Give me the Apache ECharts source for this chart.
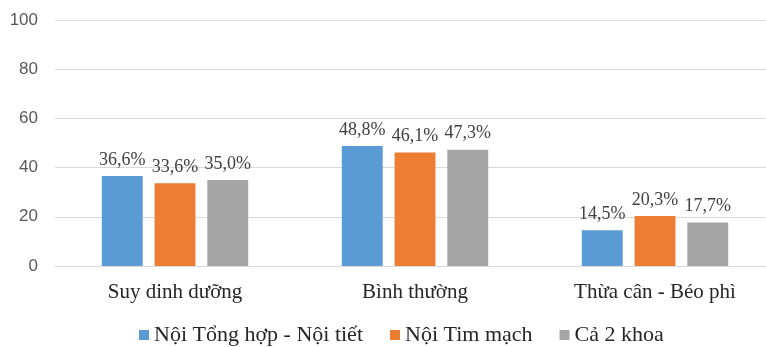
<!DOCTYPE html>
<html>
<head>
<meta charset="utf-8">
<script src="https://cdn.jsdelivr.net/npm/echarts@6/dist/echarts.min.js"></script>
<style>
  html, body { margin: 0; padding: 0; background: #fff; overflow: hidden; }
  #chart { width: 766px; height: 347px; }
</style>
</head>
<body>
<div id="chart"></div>
<script>
// Nutritional status by department (%)
const categories = ['Suy dinh dưỡng', 'Bình thường', 'Thừa cân - Béo phì'];
const seriesNames = ['Nội Tổng hợp - Nội tiết', 'Nội Tim mạch', 'Cả 2 khoa'];
const noiTongHop = [36.6, 48.8, 14.5];
const noiTimMach = [33.6, 46.1, 20.3];
const ca2Khoa = [35.0, 47.3, 17.7];
const yTicks = [0, 20, 40, 60, 80, 100];

const colors = ['#5b9bd5', '#ed7d31', '#a5a5a5'];
const serif = '"Liberation Serif", "DejaVu Serif", serif';
const sans = '"Liberation Sans", Arial, sans-serif';

function pct(p) {
  return p.value.toFixed(1).replace('.', ',') + '%';
}

const seriesData = [noiTongHop, noiTimMach, ca2Khoa];
const series = seriesData.map((vals, i) => ({
  name: seriesNames[i],
  type: 'bar',
  data: vals,
  barGap: '29%',
  barCategoryGap: '39%',
  itemStyle: { color: colors[i] },
  label: {
    show: true,
    position: 'top',
    distance: 7,
    formatter: pct,
    fontFamily: serif,
    fontSize: 18,
    color: '#404040'
  }
}));

const chart = echarts.init(document.getElementById('chart'), null, { renderer: 'canvas' });
chart.setOption({
  animation: false,
  backgroundColor: '#ffffff',
  textStyle: { fontFamily: serif },
  legend: {
    top: 319,
    left: 134,
    itemWidth: 10,
    itemHeight: 10,
    itemGap: 27,
    icon: 'rect',
    textStyle: { fontFamily: serif, fontSize: 22, color: '#262626' },
    data: seriesNames
  },
  // the plot runs slightly past the right edge of the canvas
  grid: {
    left: 55, width: 720, top: 20, bottom: 81,
    containLabel: false,
    outerBoundsMode: 'none'
  },
  xAxis: {
    type: 'category',
    data: categories,
    axisTick: { show: false },
    axisLine: { lineStyle: { color: '#d9d9d9', width: 1 } },
    axisLabel: { fontFamily: serif, fontSize: 21, color: '#262626', margin: 16 }
  },
  yAxis: {
    type: 'value',
    min: yTicks[0],
    max: yTicks[yTicks.length - 1],
    interval: 20,
    axisLine: { show: false },
    axisTick: { show: false },
    splitLine: { lineStyle: { color: '#d9d9d9', width: 1 } },
    axisLabel: { fontFamily: sans, fontSize: 17, color: '#595959', margin: 17 }
  },
  series: series
});
</script>
</body>
</html>
